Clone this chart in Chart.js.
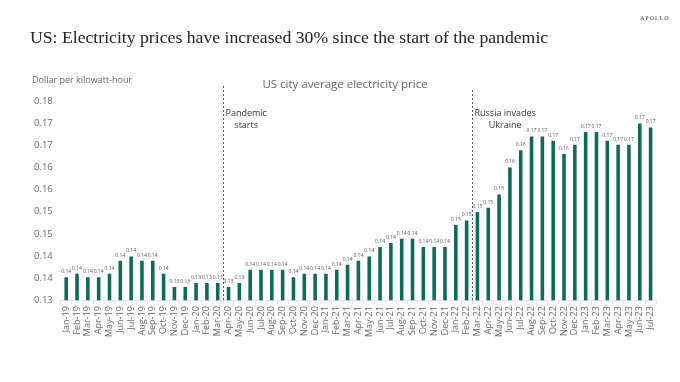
<!DOCTYPE html>
<html>
<head>
<meta charset="utf-8">
<script src="https://cdn.jsdelivr.net/npm/chart.js@4.4.0/dist/chart.umd.min.js"></script>
<style>
  body { margin: 0; background: #fff; }
  #wrap { width: 680px; height: 382px; position: relative; }
</style>
</head>
<body>
<div id="wrap"><canvas id="myChart"></canvas></div>
<script>
// months Jan-19 .. Jul-23
var years = ['19', '20', '21', '22', '23'];
var monthNames = ['Jan','Feb','Mar','Apr','May','Jun','Jul','Aug','Sep','Oct','Nov','Dec'];
var labels = [];
years.forEach(function(y){
    monthNames.forEach(function(m){ labels.push(m + '-' + y); });
});
labels = labels.slice(0, 55);

// dollar per kWh
var price2019 = [0.1352, 0.1360, 0.1352, 0.1352, 0.1360, 0.1389, 0.1399, 0.1389, 0.1389, 0.1360, 0.1330, 0.1330];
var price2020 = [0.1339, 0.1339, 0.1339, 0.1330, 0.1339, 0.1369, 0.1369, 0.1369, 0.1369, 0.1352, 0.1360, 0.1360];
var price2021 = [0.1360, 0.1369, 0.1380, 0.1389, 0.1399, 0.1420, 0.1429, 0.1439, 0.1439, 0.1420, 0.1420, 0.1420];
var price2022 = [0.1470, 0.1480, 0.1499, 0.1509, 0.1539, 0.1600, 0.1639, 0.1670, 0.1670, 0.1660, 0.1630, 0.1651];
var price2023 = [0.1680, 0.1680, 0.1660, 0.1651, 0.1651, 0.1699, 0.1690];
var prices = price2019.concat(price2020, price2021, price2022, price2023);

// events drawn as dashed lines (line sits before this month)
var events = [
    { month: 'Apr-20', lines: ['Pandemic', 'starts'] },
    { month: 'Mar-22', lines: ['Russia invades', 'Ukraine'] }
];

var sans = "'Open Sans', 'Noto Sans', sans-serif";

// excel style: round half up to 2 decimals
function fmt2(v){
    return (Math.round(Math.round(v * 1000) / 10) / 100).toFixed(2);
}

var textPlugin = {
    id: 'texts',
    afterDraw: function(chart){
        var ctx = chart.ctx;
        ctx.save();
        // title
        ctx.fillStyle = '#222';
        ctx.font = "17.7px 'Liberation Serif', serif";
        ctx.textBaseline = 'alphabetic';
        ctx.textAlign = 'left';
        ctx.fillText('US: Electricity prices have increased 30% since the start of the pandemic', 30, 43);
        // logo
        ctx.font = "6px 'Liberation Serif', serif";
        ctx.fillStyle = '#444';
        ctx.letterSpacing = '1px';
        ctx.fillText('APOLLO', 640, 20);
        ctx.letterSpacing = '0px';
        // axis title + subtitle
        ctx.fillStyle = '#666';
        ctx.font = '9px ' + sans;
        ctx.textBaseline = 'middle';
        ctx.fillText('Dollar per kilowatt-hour', 32, 80);
        ctx.font = '11.5px ' + sans;
        ctx.textAlign = 'center';
        ctx.fillText('US city average electricity price', 345, 85);
        ctx.restore();
    },
    afterDatasetsDraw: function(chart){
        var ctx = chart.ctx;
        var meta = chart.getDatasetMeta(0);
        var xs = chart.scales.x;
        var area = chart.chartArea;
        ctx.save();
        // value labels
        ctx.fillStyle = '#555';
        ctx.font = '5px ' + sans;
        ctx.textAlign = 'center';
        ctx.textBaseline = 'bottom';
        meta.data.forEach(function(bar, i){
            ctx.fillText(fmt2(prices[i]), bar.x, bar.y - 3);
        });
        // event markers
        events.forEach(function(ev, k){
            var idx = labels.indexOf(ev.month);
            var x = (xs.getPixelForValue(idx - 1) + xs.getPixelForValue(idx)) / 2;
            x = Math.round(x) + 0.5;
            ctx.strokeStyle = '#555';
            ctx.lineWidth = 1;
            ctx.setLineDash([2, 2]);
            ctx.beginPath();
            ctx.moveTo(x, area.top - (k === 0 ? 15 : 11));
            ctx.lineTo(x, area.bottom);
            ctx.stroke();
            ctx.setLineDash([]);
            ctx.fillStyle = '#333';
            ctx.font = '9px ' + sans;
            ctx.textBaseline = 'middle';
            ctx.textAlign = 'left';
            ctx.fillText(ev.lines[0], x + 2, area.top + 12);
            var w = ctx.measureText(ev.lines[0]).width;
            ctx.textAlign = 'center';
            ctx.fillText(ev.lines[1], x + 2 + w / 2, area.top + 24);
        });
        ctx.restore();
    }
};

var ctx = document.getElementById('myChart').getContext('2d');
var myChart = new Chart(ctx, {
    type: 'bar',
    data: {
        labels: labels,
        datasets: [{
            label: 'US city average electricity price',
            data: prices,
            backgroundColor: '#0e6b58',
            barPercentage: 0.33,
            categoryPercentage: 1
        }]
    },
    options: {
        responsive: true,
        maintainAspectRatio: false,
        animation: false,
        layout: { padding: { top: 101, left: 26, right: 24, bottom: 43 } },
        plugins: {
            legend: { display: false },
            tooltip: { enabled: false }
        },
        scales: {
            x: {
                grid: { display: true, drawOnChartArea: false, drawTicks: true, tickLength: 4, color: '#e4e4e4', offset: true },
                border: { display: true, color: '#e4e4e4' },
                ticks: {
                    autoSkip: false, maxRotation: 90, minRotation: 90,
                    color: '#666', font: { size: 9, family: sans }, padding: 2
                }
            },
            y: {
                min: 0.13,
                max: 0.175,
                grid: { display: false, drawTicks: false },
                border: { display: false },
                ticks: {
                    stepSize: 0.005,
                    color: '#666',
                    font: { size: 9.5, family: sans },
                    padding: 8,
                    callback: function(v){ return fmt2(v); }
                }
            }
        }
    },
    plugins: [textPlugin]
});
</script>
</body>
</html>
